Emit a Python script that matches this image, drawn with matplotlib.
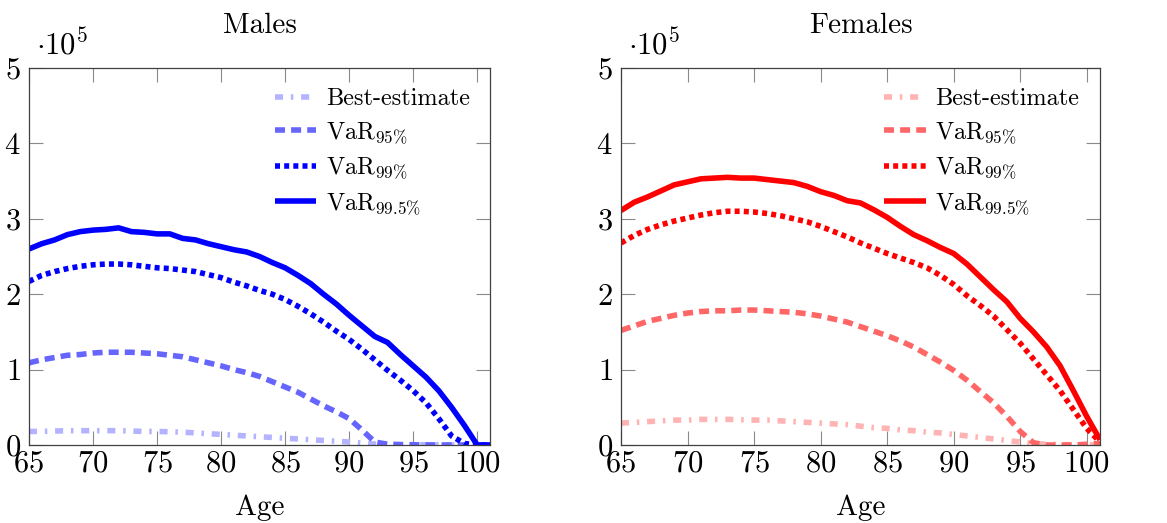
import matplotlib
matplotlib.use("Agg")
import matplotlib.pyplot as plt
import numpy as np

ages = list(range(65, 102))

male_best = [0.18, 0.18, 0.185, 0.19, 0.19, 0.19, 0.19, 0.19, 0.185, 0.18, 0.18, 0.175, 0.17, 0.16, 0.15, 0.14,
             0.13, 0.12, 0.11, 0.10, 0.09, 0.08, 0.07, 0.06, 0.05, 0.04, 0.025, 0.012, 0.008, 0.005, 0.004,
             0.003, 0.002, 0.001, 0.0, 0.0, 0.0]
male_var95 = [1.09, 1.13, 1.16, 1.19, 1.20, 1.22, 1.23, 1.23, 1.23, 1.22, 1.21, 1.19, 1.17, 1.13, 1.09, 1.05,
              1.00, 0.96, 0.91, 0.84, 0.77, 0.70, 0.61, 0.52, 0.44, 0.35, 0.20, 0.04, 0.01, 0.005, 0.003,
              0.002, 0.001, 0.0, 0.0, 0.0, 0.0]
male_var99 = [2.17, 2.25, 2.30, 2.34, 2.37, 2.39, 2.40, 2.40, 2.39, 2.37, 2.35, 2.34, 2.32, 2.30, 2.26, 2.22,
              2.16, 2.11, 2.05, 2.00, 1.93, 1.84, 1.74, 1.63, 1.51, 1.40, 1.27, 1.13, 0.99, 0.86, 0.72,
              0.56, 0.35, 0.12, 0.02, 0.0, 0.0]
male_var995 = [2.60, 2.67, 2.72, 2.79, 2.83, 2.85, 2.86, 2.88, 2.83, 2.82, 2.80, 2.80, 2.74, 2.72, 2.67, 2.63,
               2.59, 2.56, 2.50, 2.42, 2.35, 2.25, 2.14, 2.00, 1.87, 1.72, 1.58, 1.44, 1.36, 1.20, 1.05,
               0.90, 0.72, 0.50, 0.26, 0.0, 0.0]

female_best = [0.29, 0.30, 0.31, 0.32, 0.33, 0.33, 0.34, 0.34, 0.34, 0.335, 0.33, 0.33, 0.32, 0.31, 0.30, 0.29,
               0.28, 0.27, 0.25, 0.23, 0.22, 0.20, 0.19, 0.17, 0.16, 0.14, 0.12, 0.10, 0.08, 0.06, 0.04,
               0.02, 0.01, 0.005, 0.003, 0.002, 0.002]
female_var95 = [1.52, 1.58, 1.64, 1.68, 1.72, 1.75, 1.77, 1.78, 1.78, 1.79, 1.79, 1.78, 1.77, 1.76, 1.74, 1.71,
                1.67, 1.63, 1.57, 1.51, 1.45, 1.38, 1.30, 1.20, 1.10, 0.99, 0.86, 0.71, 0.56, 0.38, 0.18,
                0.03, 0.0, 0.0, 0.0, 0.01, 0.02]
female_var99 = [2.68, 2.78, 2.86, 2.92, 2.97, 3.01, 3.05, 3.08, 3.10, 3.10, 3.09, 3.07, 3.04, 3.00, 2.96, 2.90,
                2.83, 2.76, 2.68, 2.61, 2.54, 2.48, 2.42, 2.35, 2.25, 2.13, 1.98, 1.85, 1.71, 1.53, 1.35,
                1.14, 0.93, 0.72, 0.47, 0.22, 0.04]
female_var995 = [3.11, 3.22, 3.29, 3.37, 3.45, 3.49, 3.53, 3.54, 3.55, 3.54, 3.54, 3.52, 3.50, 3.48, 3.43, 3.36,
                 3.31, 3.24, 3.21, 3.12, 3.02, 2.90, 2.79, 2.71, 2.62, 2.54, 2.40, 2.23, 2.06, 1.90, 1.68,
                 1.50, 1.30, 1.05, 0.72, 0.38, 0.07]

xticks = [65, 70, 75, 80, 85, 90, 95, 100]
yticks = [0, 1, 2, 3, 4, 5]
labels = ['Best-estimate', r'VaR$_{95\%}$', r'VaR$_{99\%}$', r'VaR$_{99.5\%}$']

plt.rcParams['font.family'] = ['cmr10', 'DejaVu Serif']
plt.rcParams['mathtext.fontset'] = 'cm'
plt.rcParams['axes.formatter.use_mathtext'] = True

fig = plt.figure(figsize=(11.67, 5.23), dpi=100)
ax1 = fig.add_axes([29 / 1167, 1 - 445 / 523, (490 - 29) / 1167, (445 - 68) / 523])
ax2 = fig.add_axes([621 / 1167, 1 - 445 / 523, (1100 - 621) / 1167, (445 - 68) / 523])

lw = 4.0
styles = [
    dict(dashes=(1.45, 1.4, 0.45, 1.4)),
    dict(dashes=(1.8, 1.1)),
    dict(dashes=(0.9, 0.75)),
    dict(linestyle='-'),
]


def panel(ax, title, base, light, mid, series):
    cols = [light, mid, base, base]
    for s, c, st, lab in zip(series, cols, styles, labels):
        ax.plot(ages, s, color=c, lw=lw, label=lab, solid_capstyle='butt',
                dash_capstyle='butt', solid_joinstyle='round', **st)
    ax.set_xlim(65, 101)
    ax.set_ylim(0, 5)
    ax.set_xticks(xticks)
    ax.set_yticks(yticks)
    ax.tick_params(direction='in', length=10, width=0.8, color='#8a8a8a',
                   top=True, right=True, labelsize=22, pad=4)
    ax.tick_params(axis='y', pad=6)
    for sp in ax.spines.values():
        sp.set_color('#404040')
        sp.set_linewidth(0.9)
    ax.set_title(title, fontsize=21, pad=25)
    ax.set_xlabel('Age', fontsize=21, labelpad=12)
    ax.text(0.015, 1.02, r'$\cdot 10^5$', transform=ax.transAxes, fontsize=22,
            ha='left', va='bottom')
    ax.legend(loc='upper right', frameon=False, fontsize=17.5, handlelength=1.7,
              handletextpad=0.4, labelspacing=0.42, borderaxespad=0.0,
              bbox_to_anchor=(0.977, 0.972))


panel(ax1, 'Males', (0, 0, 1), (0.70, 0.70, 1.0), (0.40, 0.40, 1.0),
      [male_best, male_var95, male_var99, male_var995])
panel(ax2, 'Females', (1, 0, 0), (1.0, 0.70, 0.70), (1.0, 0.40, 0.40),
      [female_best, female_var95, female_var99, female_var995])

fig.savefig('out.png', dpi=100)
